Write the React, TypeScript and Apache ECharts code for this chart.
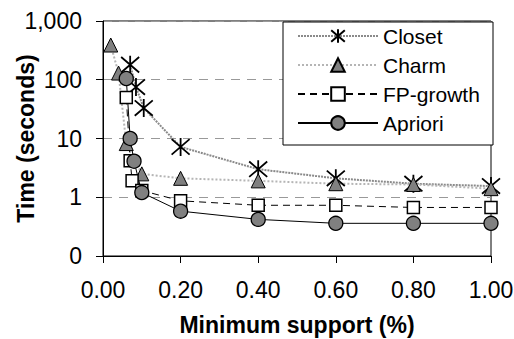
import React, { useEffect, useRef } from "react";
import * as echarts from "echarts";

const seriesNames = ["Closet", "Charm", "FP-growth", "Apriori"];
const closetX = [0.07, 0.085, 0.105, 0.2, 0.4, 0.6, 0.8, 1.0];
const closetY = [180, 75, 33, 7.2, 3.0, 2.1, 1.7, 1.55];
const charmX = [0.02, 0.04, 0.06, 0.1, 0.2, 0.4, 0.6, 0.8, 1.0];
const charmY = [390, 130, 8.2, 2.5, 2.1, 1.9, 1.7, 1.65, 1.4];
const fpX = [0.06, 0.07, 0.075, 0.1, 0.2, 0.4, 0.6, 0.8, 1.0];
const fpY = [50, 4.2, 1.9, 1.3, 0.87, 0.73, 0.73, 0.67, 0.67];
const aprioriX = [0.06, 0.07, 0.08, 0.1, 0.2, 0.4, 0.6, 0.8, 1.0];
const aprioriY = [105, 10, 4.1, 1.2, 0.58, 0.42, 0.36, 0.36, 0.36];

const FONT = "'Liberation Sans', Arial, sans-serif";

function pairs(xs: number[], ys: number[]) {
  return xs.map((x, i) => [x, ys[i]]);
}

const ASTERISK = "path://M0,1L12,13M12,1L0,13M6,0L6,14";

export default function App() {
  const ref = useRef<HTMLDivElement>(null);
  useEffect(() => {
    if (!ref.current) return;
    const chart = echarts.init(ref.current, null, { renderer: "svg" });
    chart.setOption({
      animation: false,
      backgroundColor: "#fff",
      textStyle: { fontFamily: FONT },
      grid: {
        left: 103,
        right: 23,
        top: 21,
        bottom: 83,
        containLabel: false,
        outerBoundsMode: "none",
        show: true,
        borderColor: "#000",
        borderWidth: 1,
      },
      xAxis: {
        type: "value",
        min: 0,
        max: 1,
        interval: 0.2,
        name: "Minimum support (%)",
        nameLocation: "middle",
        nameGap: 57,
        nameMoveOverlap: false,
        nameTextStyle: { fontFamily: FONT, fontSize: 23, fontWeight: "bold", color: "#000" },
        axisLine: { lineStyle: { color: "#000", width: 1 } },
        axisTick: { show: true, inside: false, length: 7, lineStyle: { color: "#000" } },
        axisLabel: {
          fontFamily: FONT,
          fontSize: 23,
          color: "#000",
          margin: 22,
          formatter: (v: number) => v.toFixed(2),
        },
        splitLine: { show: false },
      },
      yAxis: {
        type: "log",
        logBase: 10,
        min: 0.1,
        max: 1000,
        name: "Time (seconds)",
        nameLocation: "middle",
        nameGap: 66,
        nameMoveOverlap: false,
        nameTextStyle: { fontFamily: FONT, fontSize: 23, fontWeight: "bold", color: "#000" },
        axisLine: { show: true, lineStyle: { color: "#000", width: 1 } },
        axisTick: { show: true, inside: false, length: 7, lineStyle: { color: "#000" } },
        minorTick: { show: false },
        axisLabel: {
          fontFamily: FONT,
          fontSize: 23,
          color: "#000",
          margin: 21,
          formatter: (v: number) => (v < 1 ? "0" : Math.round(v).toLocaleString("en-US")),
        },
        splitLine: { show: true, lineStyle: { color: "#999", type: [9, 7], width: 1 } },
      },
      legend: {
        orient: "vertical",
        left: 297,
        top: 25,
        padding: 0,
        itemWidth: 80,
        itemHeight: 17,
        itemGap: 7,
        data: seriesNames,
        textStyle: { fontFamily: FONT, fontSize: 21, color: "#000", lineHeight: 22 },
        z: 10,
      },
      graphic: [
        {
          type: "rect",
          z: 5,
          shape: { x: 283, y: 22, width: 210, height: 123 },
          style: { fill: "#fff", stroke: "#000", lineWidth: 1 },
        },
      ],
      series: [
        {
          name: seriesNames[0],
          type: "line",
          data: pairs(closetX, closetY),
          symbol: ASTERISK,
          symbolSize: [18, 18],
          itemStyle: { color: "transparent", borderColor: "#000", borderWidth: 1.8 },
          lineStyle: { color: "#8a8a8a", width: 2, type: [2, 1] },
          z: 3,
        },
        {
          name: seriesNames[1],
          type: "line",
          data: pairs(charmX, charmY),
          symbol: "triangle",
          symbolSize: 14,
          itemStyle: { color: "#808080", borderColor: "#000", borderWidth: 1 },
          lineStyle: { color: "#b5b5b5", width: 2, type: [2, 2] },
          z: 3,
        },
        {
          name: seriesNames[2],
          type: "line",
          data: pairs(fpX, fpY),
          symbol: "rect",
          symbolSize: 12,
          itemStyle: { color: "#fff", borderColor: "#000", borderWidth: 1.5 },
          lineStyle: { color: "#000", width: 1, type: [7, 5] },
          z: 3,
        },
        {
          name: seriesNames[3],
          type: "line",
          data: pairs(aprioriX, aprioriY),
          symbol: "circle",
          symbolSize: 14,
          itemStyle: { color: "#808080", borderColor: "#000", borderWidth: 1.3 },
          lineStyle: { color: "#000", width: 1 },
          z: 3,
        },
      ],
    });
    return () => chart.dispose();
  }, []);
  return (
    <div
      ref={ref}
      style={{ position: "fixed", left: 0, top: 0, width: 514, height: 339 }}
    />
  );
}
